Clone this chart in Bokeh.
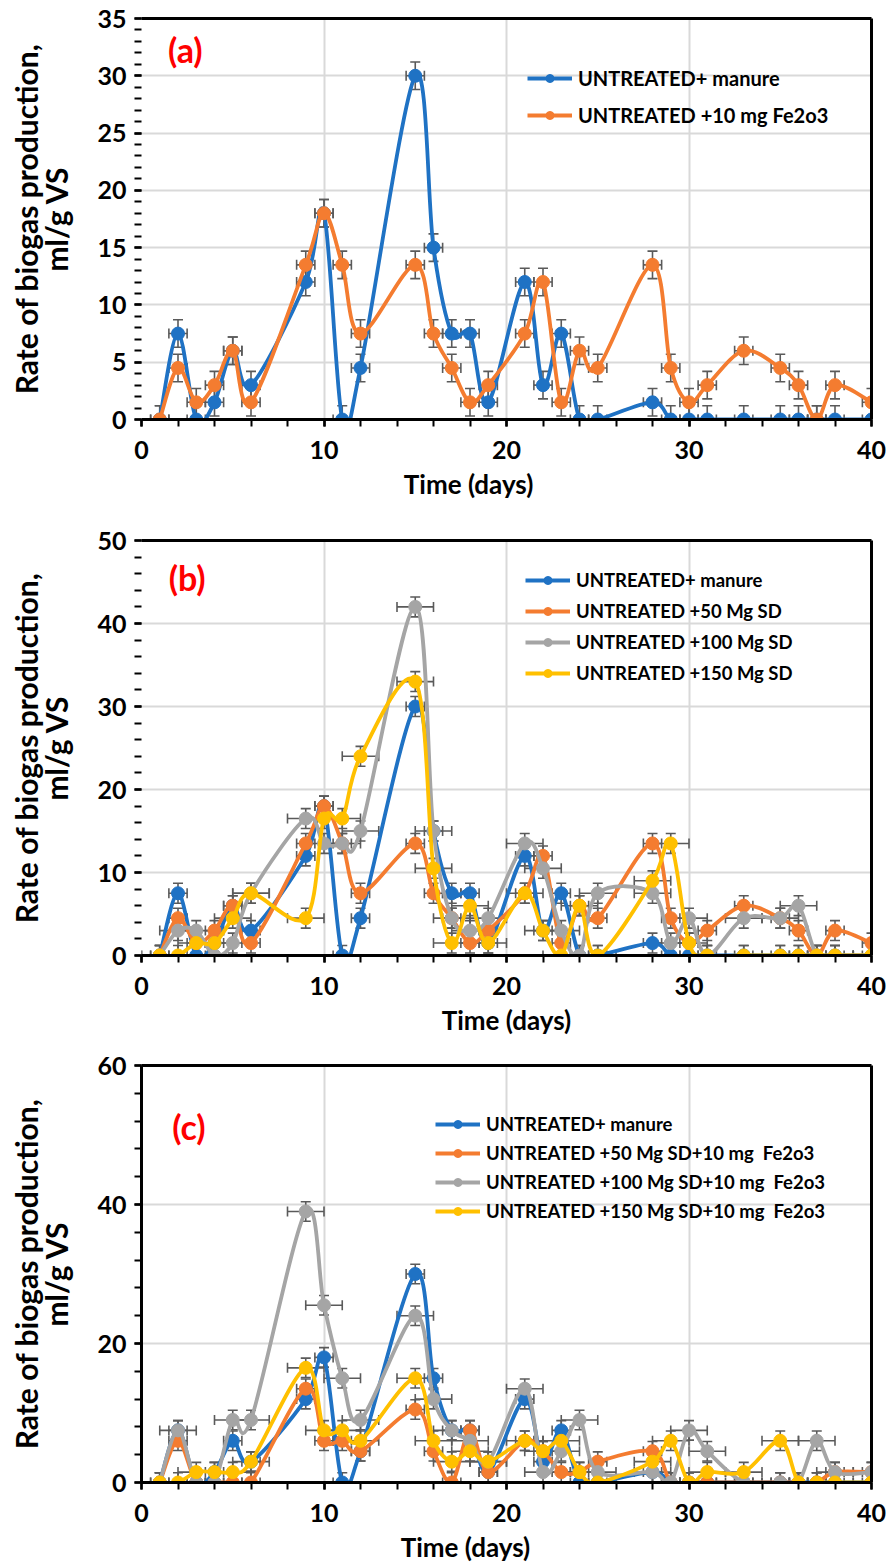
import math
import numpy as np
from bokeh.plotting import figure
from bokeh.models import (ColumnDataSource, Whisker, TeeHead, Legend, LegendItem,
                          LinearAxis, FixedTicker, Range1d, Label, SingleIntervalTicker)
from bokeh.layouts import column
from bokeh.embed import file_html
from bokeh.resources import INLINE

# ---------------- data ----------------
days = [1, 2, 3, 4, 5, 6, 9, 10, 11, 12, 15, 16, 17, 18, 19, 21, 22, 23, 24, 25,
        28, 29, 30, 31, 33, 35, 36, 37, 38, 40]

manure = [0, 7.5, 0, 1.5, 6, 3, 12, 18, 0, 4.5, 30, 15, 7.5, 7.5, 1.5, 12, 3, 7.5, 0, 0,
          1.5, 0, 0, 0, 0, 0, 0, 0, 0, 0]
fe10 = [0, 4.5, 1.5, 3, 6, 1.5, 13.5, 18, 13.5, 7.5, 13.5, 7.5, 4.5, 1.5, 3, 7.5, 12, 1.5, 6, 4.5,
        13.5, 4.5, 1.5, 3, 6, 4.5, 3, 0, 3, 1.5]

sd50 = [0, 4.5, 1.5, 3, 6, 1.5, 13.5, 18, 13.5, 7.5, 13.5, 7.5, 4.5, 1.5, 3, 7.5, 12, 1.5, 6, 4.5,
        13.5, 4.5, 1.5, 3, 6, 4.5, 3, 0, 3, 1.5]
sd100 = [0, 3, 3, 0, 1.5, 7.5, 16.5, 13.5, 13.5, 15, 42, 15, 4.5, 3, 4.5, 13.5, 10.5, 3, 0, 7.5,
         7.5, 1.5, 4.5, 0, 4.5, 4.5, 6, 0, 0, 0]
sd150 = [0, 0, 1.5, 1.5, 4.5, 7.5, 4.5, 16.5, 16.5, 24, 33, 10.5, 1.5, 6, 1.5, 7.5, 3, 0, 6, 0,
         9, 13.5, 1.5, 0, 0, 0, 0, 0, 0, 0]

sd50_fe = [0, 6, 0, 0, 0, 0, 13.5, 6, 6, 4.5, 10.5, 4.5, 0, 7.5, 1.5, 6, 4.5, 1.5, 1.5, 3,
           4.5, 0, 0, 0, 0, 0, 0, 0, 1.5, 1.5]
sd100_fe = [0, 7.5, 0, 0, 9, 9, 39, 25.5, 15, 9, 24, 12, 7.5, 6, 3, 13.5, 1.5, 4.5, 9, 1.5,
            1.5, 0, 7.5, 4.5, 0, 0, 0, 6, 1.5, 1.5]
sd150_fe = [0, 0, 1.5, 1.5, 1.5, 3, 16.5, 7.5, 7.5, 6, 15, 6, 3, 4.5, 3, 6, 4.5, 6, 1.5, 0,
            3, 6, 0, 1.5, 1.5, 6, 0, 0, 0, 0]

names_a = ["UNTREATED+ manure", "UNTREATED +10 mg Fe2o3"]
names_b = ["UNTREATED+ manure", "UNTREATED +50 Mg SD", "UNTREATED +100 Mg SD", "UNTREATED +150 Mg SD"]
names_c = ["UNTREATED+ manure", "UNTREATED +50 Mg SD+10 mg  Fe2o3",
           "UNTREATED +100 Mg SD+10 mg  Fe2o3", "UNTREATED +150 Mg SD+10 mg  Fe2o3"]

y_title = ["Rate of biogas production,", "ml/g VS"]
x_title = "Time (days)"

# error bar half-widths (days) and half-heights (ml/g VS)
xerr_a = [0.5, 0.5]
yerr_a = [1.2, 1.2]
xerr_b = [0.5, 0.5, 1.0, 1.0]
yerr_b = [1.2, 1.2, 1.2, 1.2]
xerr_c = [0.5, 0.5, 1.0, 1.0]
yerr_c = [1.4, 1.4, 1.4, 1.4]

COLORS = ["#1F72C4", "#F47C30", "#A5A5A5", "#FFC000"]
FONT = "Lato"
ERR = "#5A5A5A"
NBSP = "\u00a0"


def smooth_controls(xs, ys):
    x = np.asarray(xs, float)
    y = np.asarray(ys, float)
    n = len(x)
    x0, y0, x1, y1, cx0, cy0, cx1, cy1 = ([] for _ in range(8))
    for i in range(n - 1):
        ip = max(i - 1, 0)
        inn = min(i + 2, n - 1)
        x0.append(x[i]); y0.append(y[i]); x1.append(x[i + 1]); y1.append(y[i + 1])
        cx0.append(x[i] + (x[i + 1] - x[ip]) / 6.0)
        cy0.append(y[i] + (y[i + 1] - y[ip]) / 6.0)
        cx1.append(x[i + 1] - (x[inn] - x[i]) / 6.0)
        cy1.append(y[i + 1] - (y[inn] - y[i]) / 6.0)
    return dict(x0=x0, y0=y0, x1=x1, y1=y1, cx0=cx0, cy0=cy0, cx1=cx1, cy1=cy1)


def style_title(ax, size):
    ax.axis_label_text_font = FONT
    ax.axis_label_text_font_style = "bold"
    ax.axis_label_text_font_size = size
    ax.axis_label_text_color = "black"


def make_panel(letter, series, names, xerr, yerr, ymax, ystep, height, left, top, bottom,
               left_axis_line, legend_loc, legend_spacing, legend_font, label_pos, xtitle_pad):
    p = figure(width=886, height=height, output_backend="svg", toolbar_location=None,
               x_range=Range1d(0, 40), y_range=Range1d(0, ymax),
               min_border_left=left, min_border_right=15,
               min_border_top=top, min_border_bottom=bottom)
    p.outline_line_color = None
    p.background_fill_color = "white"
    p.border_fill_color = "white"

    p.xaxis.ticker = SingleIntervalTicker(interval=10, num_minor_ticks=5)
    p.yaxis.ticker = SingleIntervalTicker(interval=ystep, num_minor_ticks=5)

    for ax in (p.xaxis[0], p.yaxis[0]):
        ax.axis_line_width = 3
        ax.axis_line_color = "black"
        ax.major_tick_line_width = 2.5
        ax.minor_tick_line_width = 2
        ax.major_tick_line_color = "black"
        ax.minor_tick_line_color = "black"
        ax.major_tick_in = 0
        ax.minor_tick_in = 0
        ax.major_tick_out = 7
        ax.minor_tick_out = 7
        ax.major_label_text_font = FONT
        ax.major_label_text_font_style = "bold"
        ax.major_label_text_font_size = "25px"
        ax.major_label_text_color = "black"
        style_title(ax, "26px")
    if not left_axis_line:
        p.yaxis[0].axis_line_color = None

    p.xaxis.major_label_standoff = 14
    p.yaxis.major_label_standoff = 8
    # the reference title sits left of centre; trailing no-break spaces shift it
    p.xaxis.axis_label = x_title + NBSP * xtitle_pad
    p.xaxis.axis_label_standoff = 6

    # two-line y title: inner line on the real axis, outer line on an extra blank axis
    p.yaxis[0].axis_label = y_title[1]
    p.yaxis[0].axis_label_standoff = 20
    style_title(p.yaxis[0], "30px")
    outer = LinearAxis(ticker=FixedTicker(ticks=[]), axis_line_color=None,
                       major_tick_out=0, minor_tick_out=0, major_tick_in=0, minor_tick_in=0,
                       major_label_text_font_size="0px", axis_label=y_title[0],
                       axis_label_standoff=-8)
    style_title(outer, "30px")
    p.add_layout(outer, "left")

    for side in ("above", "right"):
        a = LinearAxis(ticker=FixedTicker(ticks=[]), axis_line_width=3, axis_line_color="black",
                       major_tick_out=0, minor_tick_out=0, major_tick_in=0, minor_tick_in=0,
                       major_label_text_font_size="0px")
        p.add_layout(a, side)

    p.xgrid.grid_line_color = "#D9D9D9"
    p.ygrid.grid_line_color = "#D9D9D9"
    p.xgrid.grid_line_width = 2
    p.ygrid.grid_line_width = 2

    items = []
    for k, (vals, name) in enumerate(zip(series, names)):
        col = COLORS[k]
        ys = np.asarray(vals, float)
        src = ColumnDataSource(dict(x=days, y=vals,
                                    yl=list(ys - yerr[k]), yu=list(ys + yerr[k]),
                                    xl=list(np.asarray(days, float) - xerr[k]),
                                    xu=list(np.asarray(days, float) + xerr[k])))
        for dim, base, lo, up in (("height", "x", "yl", "yu"), ("width", "y", "xl", "xu")):
            p.add_layout(Whisker(source=src, base=base, lower=lo, upper=up, dimension=dim,
                                 line_color=ERR, line_width=1.6,
                                 upper_head=TeeHead(size=10, line_color=ERR, line_width=1.6),
                                 lower_head=TeeHead(size=10, line_color=ERR, line_width=1.6)))

        bsrc = ColumnDataSource(smooth_controls(days, vals))
        p.bezier(x0="x0", y0="y0", x1="x1", y1="y1", cx0="cx0", cy0="cy0", cx1="cx1", cy1="cy1",
                 source=bsrc, line_color=col, line_width=3.8)
        leg_line = p.line(x=[np.nan], y=[np.nan], line_color=col, line_width=4)
        sc = p.scatter(x="x", y="y", source=src, size=13, fill_color=col, line_color=col)
        items.append(LegendItem(label=name, renderers=[leg_line, sc]))

    leg = Legend(items=items, location=legend_loc, background_fill_alpha=0,
                 border_line_color=None, padding=0, margin=0, spacing=legend_spacing,
                 glyph_width=45, glyph_height=20, label_standoff=6,
                 label_text_font=FONT, label_text_font_style="bold",
                 label_text_font_size=legend_font, label_text_color="black", label_height=20)
    p.add_layout(leg)

    p.add_layout(Label(x=label_pos[0], y=label_pos[1], text=letter, text_color="#FF0000",
                       text_font=FONT, text_font_style="bold", text_font_size="34px",
                       text_align="center", text_baseline="middle"))
    return p


pa = make_panel("(a)", [manure, fe10], names_a, xerr_a, yerr_a, 35, 5,
                height=520, left=141, top=18, bottom=101, left_axis_line=False,
                legend_loc=(386, 292), legend_spacing=13, legend_font="20px",
                label_pos=(2.4, 32.3), xtitle_pad=12)
pb = make_panel("(b)", [manure, sd50, sd100, sd150], names_b, xerr_b, yerr_b, 50, 10,
                height=520, left=139, top=20, bottom=85, left_axis_line=False,
                legend_loc=(384, 271), legend_spacing=9, legend_font="18.5px",
                label_pos=(2.5, 45.5), xtitle_pad=0)
pc = make_panel("(c)", [manure, sd50_fe, sd100_fe, sd150_fe], names_c, xerr_c, yerr_c, 60, 20,
                height=525, left=138, top=25, bottom=80, left_axis_line=True,
                legend_loc=(294, 260), legend_spacing=7, legend_font="18.5px",
                label_pos=(2.6, 51.2), xtitle_pad=13)

layout = column(pa, pb, pc, spacing=0)
open("out.html", "w").write(file_html(layout, INLINE))
